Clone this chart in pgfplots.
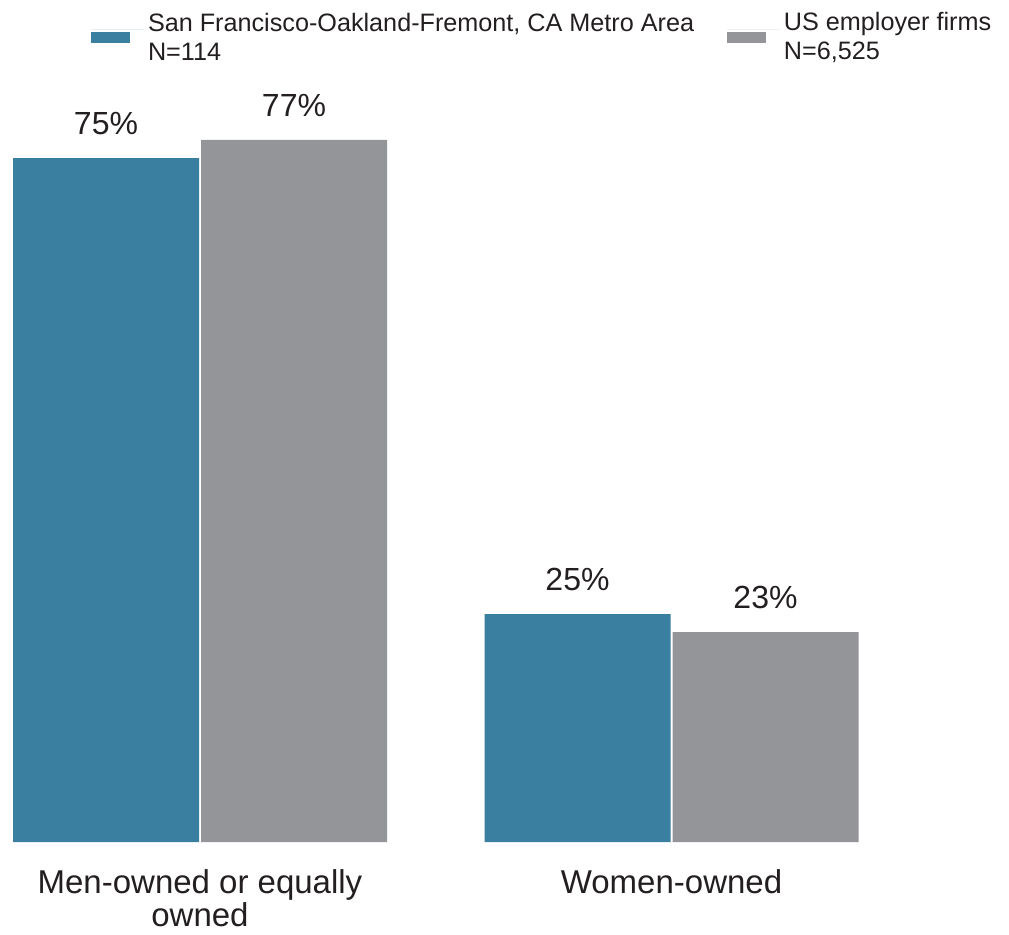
\documentclass[border=0pt]{standalone}
\usepackage{fontspec}
\setmainfont{Liberation Sans}
\usepackage{pgfplots}
\pgfplotsset{compat=1.18}
\definecolor{sfblue}{RGB}{58,126,160}
\definecolor{usgray}{RGB}{147,149,152}
\definecolor{txt}{RGB}{35,31,32}

\begin{document}
\begin{tikzpicture}[x=1pt,y=1pt]
\useasboundingbox (0,0) rectangle (504.5,467);
\begin{axis}[
  at={(5.7pt,46pt)}, anchor=south west,
  scale only axis, width=424.35pt, height=364.8pt,
  xmin=-0.4, xmax=1.4, ymin=0, ymax=80,
  ybar=1pt, bar width=93pt,
  axis line style={draw=none}, major tick length=0pt,
  ytick=\empty, xtick={0,1},
  xticklabels={{Men-owned or equally\\owned},{Women-owned}},
  xticklabel style={align=center, font=\fontsize{16.5}{16.5}\selectfont,
    text=txt, inner sep=0pt, anchor=north, yshift=-13.5pt},
  nodes near coords={\pgfmathprintnumber[assume math mode=true]{\pgfplotspointmeta}\%},
  every node near coord/.append style={font=\fontsize{16}{19}\selectfont,
    text=txt, inner sep=0pt, anchor=south, yshift=11.5pt},
  clip=false,
  legend columns=2,
  legend style={at={(rel axis cs:0,1)}, anchor=north west,
    xshift=39.8pt, yshift=52.2pt,
    draw=none, fill=none, inner sep=0pt, outer sep=0pt,
    column sep=0pt, row sep=0pt,
    font=\fontsize{12.6}{14.5}\selectfont, text=txt,
    cells={anchor=west, inner sep=0pt}},
]
\addplot[fill=sfblue, draw=none,
  legend image code/.code={\fill[sfblue] (0pt,-6.75pt) rectangle (19.5pt,-1.25pt);
    \path (0pt,0pt) -- (26.5pt,0pt);}]
  coordinates {(0,75) (1,25)};
\addlegendentry{\parbox[c]{287.5pt}{San Francisco-Oakland-Fremont, CA Metro Area\\N=114}}
\addplot[fill=usgray, draw=none,
  legend image code/.code={\fill[usgray] (0pt,-6.75pt) rectangle (19.5pt,-1.25pt);
    \path (0pt,0pt) -- (26.5pt,0pt);}]
  coordinates {(0,77) (1,23)};
\addlegendentry{\parbox[c]{120pt}{US employer firms\\N=6,525}}
\end{axis}
\end{tikzpicture}
\end{document}
